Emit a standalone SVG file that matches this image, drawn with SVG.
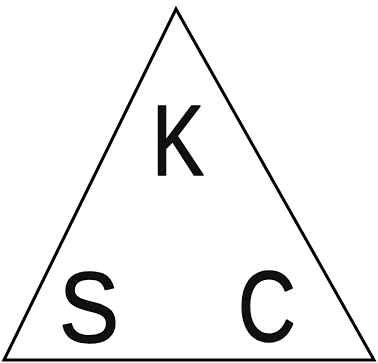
<svg xmlns="http://www.w3.org/2000/svg" width="378" height="363" viewBox="0 0 378 363">
<style>
.edge{fill:none;stroke:#000;stroke-width:3;stroke-linejoin:miter}
.lbl{font-family:"Liberation Sans",Arial,sans-serif;font-size:100px;fill:#111;stroke:#000;stroke-width:1.5;stroke-linejoin:round;text-anchor:middle}
</style>
<rect width="378" height="363" fill="#fff"/>
<g id="connectors">
<polygon class="edge" points="176,9 4,360 374,360"/>
</g>
<g id="node-K"><text class="lbl" transform="translate(178,175) scale(0.78,1)">K</text></g>
<g id="node-S"><text class="lbl" transform="translate(89,342) scale(0.9,1)">S</text></g>
<g id="node-C"><text class="lbl" transform="translate(267,341) scale(0.8,1)">C</text></g>
</svg>
